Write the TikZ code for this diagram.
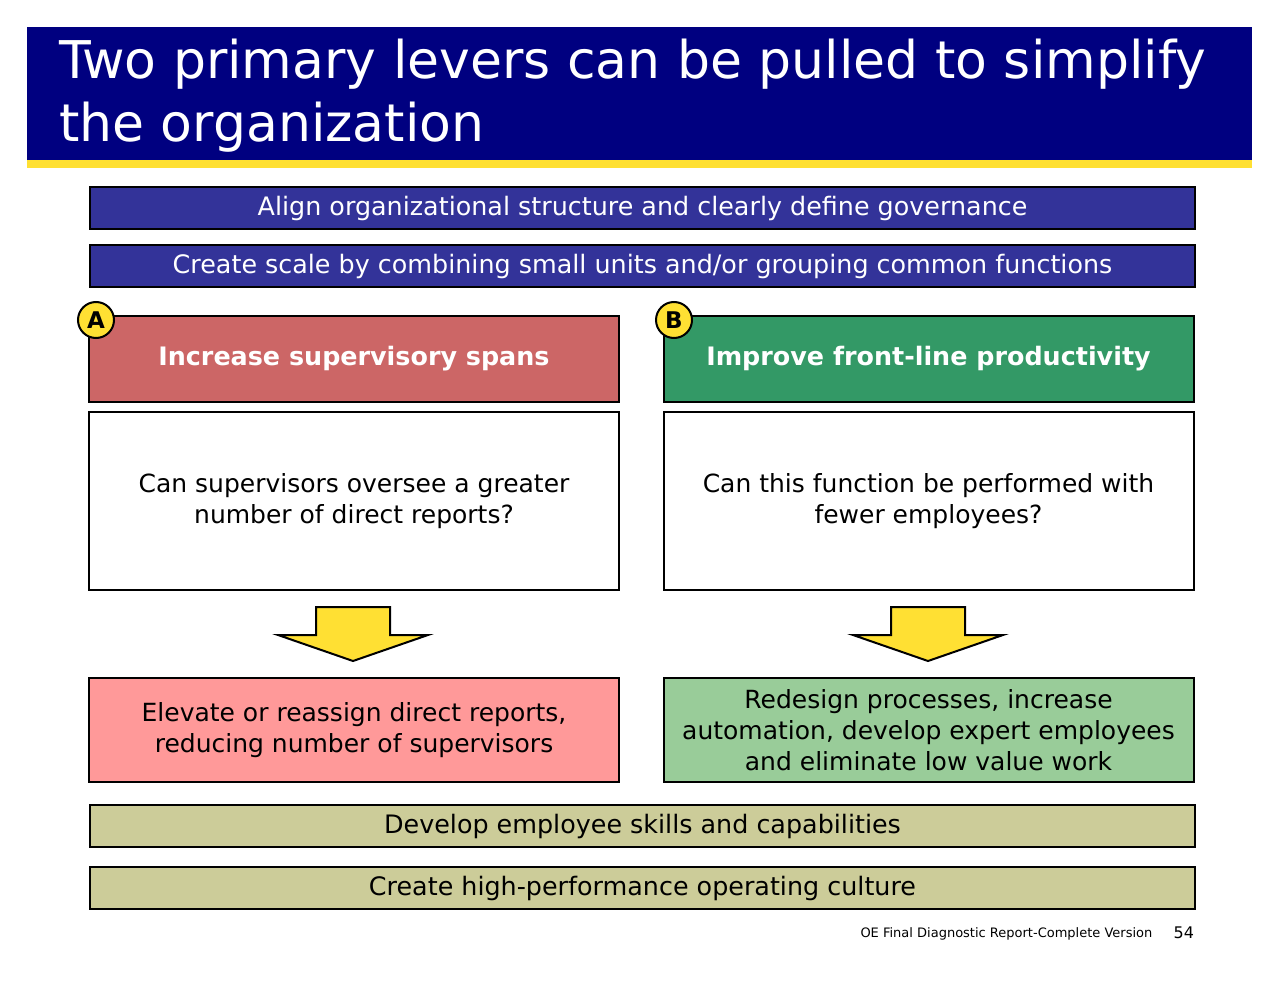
\documentclass[tikz,border=0pt]{standalone}
\usepackage{fontspec}
\setmainfont{DejaVu Sans}
\usetikzlibrary{positioning}
\definecolor{navy}{HTML}{000080}
\definecolor{barblue}{HTML}{333399}
\definecolor{gold}{HTML}{FFE033}
\definecolor{redhead}{HTML}{CC6666}
\definecolor{greenhead}{HTML}{339966}
\definecolor{redres}{HTML}{FF9999}
\definecolor{greenres}{HTML}{99CC99}
\definecolor{khaki}{HTML}{CCCC99}
\begin{document}
\begin{tikzpicture}[x=0.5pt,y=-0.5pt,line width=1pt]
		\tikzset{bar/.style={draw,minimum width=552.5pt,minimum height=21pt,inner sep=0pt,font=\fontsize{12.7}{14}\selectfont},
		head/.style={draw,minimum width=265pt,minimum height=43pt,inner sep=0pt,text=white,font=\bfseries\fontsize{12.7}{14}\selectfont},
		box/.style={draw,minimum width=265pt,align=center,inner sep=0pt,font=\fontsize{12.5}{15.5}\selectfont},
		badge/.style={circle,draw,fill=gold,minimum size=18pt,inner sep=0pt,font=\bfseries\fontsize{11.5}{14}\selectfont},
		lever/.style={draw,fill=gold}}
		\useasboundingbox (0,0) rectangle (1280,990);
		
		% title
		\fill[navy] (27,27) rectangle (1252,160);
		\fill[gold] (27,160) rectangle (1252,168);
		\node[anchor=north west,text=white,align=left,inner sep=0pt,font=\fontsize{26}{31.5}\selectfont] (title) at (58,38) {Two primary levers can be pulled to simplify\\the organization};
		
		\node[bar,fill=barblue,text=white] (align) at (642.5,208) {Align organizational structure and clearly define governance};
		\node[bar,fill=barblue,text=white] (scale) at (642.5,266) {Create scale by combining small units and/or grouping common functions};
		
		\node[head,fill=redhead] (spans) at (354,359) {Increase supervisory spans};
		\node[head,fill=greenhead] (prod) at (928.5,359) {Improve front-line productivity};
		\node[badge] (A) at (96,320) {A};
		\node[badge] (B) at (674,320) {B};
		
		\node[box,minimum height=89pt] (q1) at (354,501) {Can supervisors oversee a greater\\number of direct reports?};
		\node[box,minimum height=89pt] (q2) at (928.5,501) {Can this function be performed with\\fewer employees?};
		
		\draw[lever] (316,607) -- (390,607) -- (390,635) -- (428,635) -- (353,661) -- (278,635) -- (316,635) -- cycle;
		\draw[lever] (891,607) -- (965,607) -- (965,635) -- (1003,635) -- (928,661) -- (853,635) -- (891,635) -- cycle;
		
		\node[box,fill=redres,minimum height=52pt] (r1) at (354,730) {Elevate or reassign direct reports,\\reducing number of supervisors};
		\node[box,fill=greenres,minimum height=52pt] (r2) at (928.5,730) {Redesign processes, increase\\automation, develop expert employees\\and eliminate low value work};
		
		\node[bar,fill=khaki] (skills) at (642.5,826) {Develop employee skills and capabilities};
		\node[bar,fill=khaki] (culture) at (642.5,888) {Create high-performance operating culture};
		
		\node[anchor=east,font=\fontsize{6.5}{7}\selectfont] (foot) at (1160,934) {OE Final Diagnostic Report-Complete Version};
		\node[anchor=west,font=\fontsize{8}{9}\selectfont] (page) at (1166,933) {54};
\end{tikzpicture}
\end{document}
